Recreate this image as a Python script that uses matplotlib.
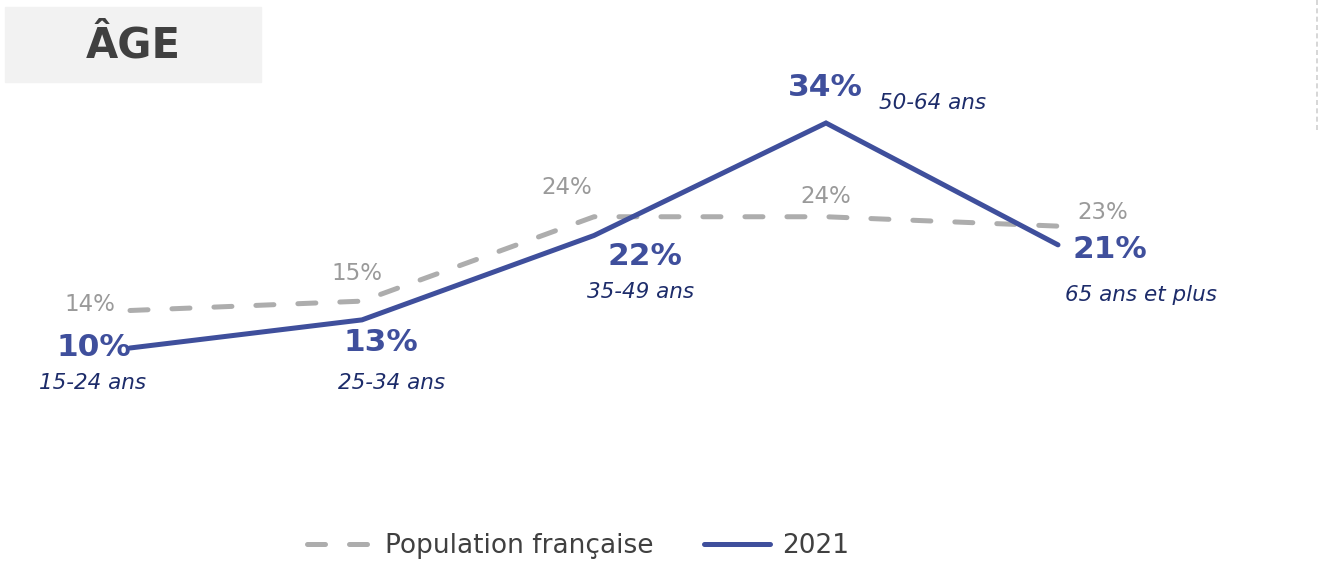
import matplotlib
matplotlib.use("Agg")
import matplotlib.pyplot as plt
from matplotlib.patches import Rectangle

# --- data ---
categories = ["15-24 ans", "25-34 ans", "35-49 ans", "50-64 ans", "65 ans et plus"]
pop_fr = [14, 15, 24, 24, 23]
y2021 = [10, 13, 22, 34, 21]

NAVY = "#3f4f9c"
NAVY_DARK = "#1d2c6a"
GREY_LINE = "#adadad"
GREY_TXT = "#9a9a9a"
DARK = "#404040"

W, H, DPI = 1320, 577, 100
fig = plt.figure(figsize=(W / DPI, H / DPI), dpi=DPI)
ax = fig.add_axes([0, 0, 1, 1])
ax.set_xlim(-130 / 232, (W - 130) / 232)
ax.set_ylim((441.75 - H) / 9.375, 441.75 / 9.375)
ax.axis("off")

x = list(range(len(categories)))
lw = 3.6
ax.plot(x, pop_fr, color=GREY_LINE, lw=lw, dashes=(3.6, 4.8),
        dash_capstyle="round", solid_joinstyle="round",
        label="Population française", zorder=2)
ax.plot(x, y2021, color=NAVY, lw=lw, solid_capstyle="round",
        solid_joinstyle="miter", label="2021", zorder=3)

# label offsets in pixels (dx, dy) relative to each point
big_off = [(-36, 0), (19, -23), (51, -21), (-1, 35), (52, -5)]
big_ha = ["center", "center", "center", "center", "center"]
cat_off = [(-37, -35), (30, -63), (47, -57), (-1, 20), (83, -50)]
cat_ha = ["center", "center", "center", "left", "center"]
grey_off = [(-40, 6), (-5, 28), (-27, 29), (0, 20), (45, 14)]

bold_kw = dict(fontsize=22.5, fontweight="bold", color=NAVY, va="center")
for i, (xi, yi) in enumerate(zip(x, y2021)):
    dx, dy = big_off[i]
    ax.annotate(f"{yi}%", (xi, yi), xytext=(dx * 0.72, dy * 0.72),
                textcoords="offset points", ha=big_ha[i], **bold_kw)
    dx, dy = cat_off[i]
    if cat_ha[i] == "left":
        dx = 53
    ax.annotate(categories[i], (xi, yi), xytext=(dx * 0.72, dy * 0.72),
                textcoords="offset points", ha=cat_ha[i], va="center",
                fontsize=15.5, style="italic", color=NAVY_DARK)

for i, (xi, yi) in enumerate(zip(x, pop_fr)):
    dx, dy = grey_off[i]
    ax.annotate(f"{yi}%", (xi, yi), xytext=(dx * 0.72, dy * 0.72),
                textcoords="offset points", ha="center", va="center",
                fontsize=16.5, color=GREY_TXT)

# title box
fig.patches.append(Rectangle((5 / W, 1 - 82 / H), 256 / W, 75 / H,
                             transform=fig.transFigure, color="#f2f2f2",
                             zorder=0))
fig.text(133 / W, 1 - 46 / H, "ÂGE", fontsize=30, fontweight="bold",
         color=DARK, ha="center", va="center")

# faint dashed separator at right edge
fig.add_artist(plt.Line2D([1317 / W, 1317 / W], [1, 1 - 130 / H],
                          transform=fig.transFigure, color="#d0d0d0",
                          lw=1.2, ls=(0, (3, 2))))

leg = fig.legend(loc="center", bbox_to_anchor=(578 / W, 1 - 546 / H),
                 ncol=2, frameon=False, fontsize=19, handlelength=2.5,
                 handletextpad=0.45, columnspacing=1.9)
for t in leg.get_texts():
    t.set_color(DARK)

fig.savefig("out.png", dpi=DPI)
